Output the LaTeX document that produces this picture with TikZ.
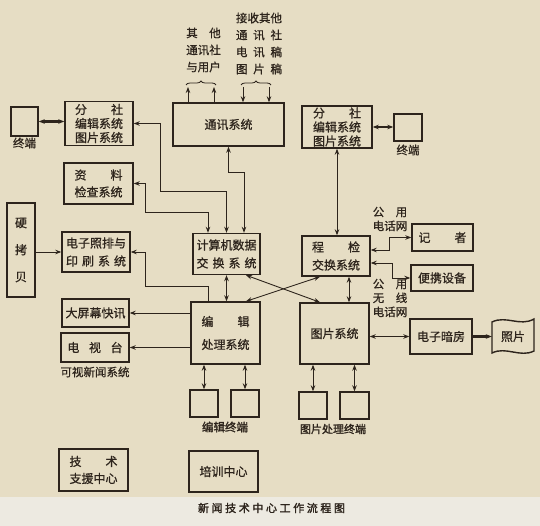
\documentclass[tikz,border=0pt]{standalone}
\usepackage{fontspec}
\newfontfamily\cjk{Noto Sans CJK SC}[FakeBold=0.8]
\newfontfamily\cjkb{Noto Sans CJK SC}[FakeBold=1.8]
\usetikzlibrary{arrows.meta,decorations.pathreplacing,calc}
\definecolor{paper}{RGB}{230,221,196}
\definecolor{paper2}{RGB}{237,234,225}
\definecolor{ink}{RGB}{45,36,28}
\begin{document}
\begin{tikzpicture}[x=1pt,y=-1pt,
  box/.style={draw=ink, line width=1.4pt, inner sep=0pt, align=center, text=ink,
    font=\cjk\fontsize{12}{14}\selectfont},
  lbl/.style={text=ink, inner sep=0pt, align=center, font=\cjk\fontsize{11.5}{17}\selectfont},
  con/.style={draw=ink, line width=0.9pt},
  arr/.style={con, -{Stealth[length=6pt,width=4.5pt]}},
  dbl/.style={con, {Stealth[length=6pt,width=4.5pt]}-{Stealth[length=6pt,width=4.5pt]}},
  heavy/.style={line width=2.2pt},
]
\useasboundingbox (0,0) rectangle (540,526);
\fill[paper] (0,0) rectangle (540,497);
\fill[paper2] (0,497) rectangle (540,526);

% boxes
\node[box, minimum width=27pt, minimum height=29pt] (t1) at (24.5,121.5) {};
\node[lbl, font=\cjk\fontsize{11.5}{13}\selectfont] (t1l) at (24.5,143) {终端};
\node[box, minimum width=68pt, minimum height=44pt] (fs1) at (99,123.5)
  {\makebox[4em]{分\hfill 社}\\编辑系统\\图片系统};
\node[box, minimum width=111pt, minimum height=43pt] (tx) at (228.5,124.5) {通讯系统};
\node[box, minimum width=70pt, minimum height=42pt] (fs2) at (337,127)
  {\makebox[4em]{分\hfill 社}\\编辑系统\\图片系统};
\node[box, minimum width=28pt, minimum height=27pt] (t2) at (408,127.5) {};
\node[lbl, font=\cjk\fontsize{11.5}{13}\selectfont] (t2l) at (408,150) {终端};
\node[box, minimum width=69pt, minimum height=41pt, font=\cjk\fontsize{12}{17}\selectfont] (zl) at (98.5,183.5)
  {\makebox[4em]{资\hfill 料}\\检查系统};
\node[box, minimum width=28pt, minimum height=94pt, font=\cjk\fontsize{12}{27}\selectfont] (yk) at (21,250)
  {硬\\拷\\贝};
\node[box, minimum width=68pt, minimum height=40pt, font=\cjk\fontsize{12}{18}\selectfont] (dz) at (96,252)
  {电子照排与\\\makebox[5em]{印\hfill 刷\hfill 系\hfill 统}};
\node[box, minimum width=67pt, minimum height=41pt, font=\cjk\fontsize{12}{18}\selectfont] (js) at (226.5,254)
  {计算机数据\\\makebox[5em]{交\hfill 换\hfill 系\hfill 统}};
\node[box, minimum width=68pt, minimum height=40pt, font=\cjk\fontsize{12}{18}\selectfont] (cj) at (336,256)
  {\makebox[4em]{程\hfill 检}\\交换系统};
\node[box, minimum width=61pt, minimum height=27pt] (jz) at (442.5,237.5) {\makebox[4em]{记\hfill 者}};
\node[box, minimum width=62pt, minimum height=26pt] (bx) at (442,278) {便携设备};
\node[box, minimum width=67pt, minimum height=28pt] (dp) at (95.5,313) {大屏幕快讯};
\node[box, minimum width=68pt, minimum height=29pt] (ds) at (95,347.5)
  {\makebox[4.6em]{电\hfill 视\hfill 台}};
\node[lbl, font=\cjk\fontsize{11.5}{13}\selectfont] (kx) at (95,372) {可视新闻系统};
\node[box, minimum width=69pt, minimum height=62pt, font=\cjk\fontsize{12}{23}\selectfont] (bj) at (225.5,333)
  {\makebox[4em]{编\hfill 辑}\\处理系统};
\node[box, minimum width=69pt, minimum height=61pt] (tp) at (334.5,333.5) {图片系统};
\node[box, minimum width=62pt, minimum height=35pt] (am) at (441,336.5) {电子暗房};
\draw[ink, line width=1.4pt] (492,322) .. controls (506,315) and (520,327) .. (534,319)
  -- (534,351) .. controls (520,358) and (506,346) .. (492,353) -- cycle;
\node[lbl, font=\cjk\fontsize{12}{14}\selectfont, minimum width=42pt] (zp) at (513,336.5) {照片};
\node[box, minimum width=28pt, minimum height=27pt] (e1) at (204,403.5) {};
\node[box, minimum width=28pt, minimum height=27pt] (e2) at (245,403.5) {};
\node[lbl, font=\cjkb\fontsize{11.5}{13}\selectfont] (el) at (225,427) {编辑终端};
\node[box, minimum width=28pt, minimum height=27pt] (p1) at (313,405.5) {};
\node[box, minimum width=29pt, minimum height=27pt] (p2) at (354.5,405.5) {};
\node[lbl, font=\cjkb\fontsize{11}{13}\selectfont] (pl) at (333,429) {图片处理终端};
\node[box, minimum width=69pt, minimum height=42pt, font=\cjk\fontsize{12}{17}\selectfont] (jszy) at (93.5,470)
  {\makebox[4em]{技\hfill 术}\\支援中心};
\node[box, minimum width=69pt, minimum height=41pt] (px) at (223.5,471.5) {培训中心};

% top labels
\node[lbl] (lq) at (203.5,50) {\makebox[3em]{其\hfill 他}\\通讯社\\与用户};
\node[lbl] (lj) at (259,43.5) {接收其他\\\makebox[4em]{通\hfill 讯\hfill 社}\\
  \makebox[4em]{电\hfill 讯\hfill 稿}\\\makebox[4em]{图\hfill 片\hfill 稿}};
\node[lbl, font=\cjk\fontsize{11.5}{14}\selectfont] (g1) at (390,219) {\makebox[3em]{公\hfill 用}\\电话网};
\node[lbl, font=\cjk\fontsize{11.5}{14}\selectfont] (g2) at (390,298)
  {\makebox[3em]{公\hfill 用}\\\makebox[3em]{无\hfill 线}\\电话网};
\node[lbl, font=\cjkb\fontsize{11}{13}\selectfont] (cap) at (271.5,508)
  {\makebox[147pt]{新\hfill 闻\hfill 技\hfill 术\hfill 中\hfill 心\hfill 工\hfill 作\hfill 流\hfill 程\hfill 图}};

% braces and top arrows
\coordinate (b1) at (188,87);
\coordinate (b2) at (214,87);
\coordinate (b3) at (243,87);
\coordinate (b4) at (269,87);
\draw[ink, line width=0.8pt, decorate, decoration={brace, amplitude=4pt}] (186,85) -- (216,85);
\draw[ink, line width=0.8pt, decorate, decoration={brace, amplitude=4pt}] (241,85) -- (271,85);
\draw[arr] ([xshift=-40.5pt]tx.north) -- (b1);
\draw[arr] ([xshift=-14.5pt]tx.north) -- (b2);
\draw[arr] (b3) -- ([xshift=14.5pt]tx.north);
\draw[arr] (b4) -- ([xshift=40.5pt]tx.north);

% connectors
\draw[dbl, heavy] (t1.east) -- (t1.east -| fs1.west);
\draw[dbl, heavy] (fs2.east) -- (fs2.east -| t2.west);
\draw[dbl] (fs1.east) -- (160,123.5) -- (160,191) -| (js.north);
\draw[dbl] (tx.south) -- ++(0,26) -| ([xshift=17.5pt]js.north);
\draw[dbl] (zl.east) -- (145,183.5) -- (145,212) -| ([xshift=-18.5pt]js.north);
\draw[dbl] (fs2.south) -- (fs2.south |- cj.north);
\draw[dbl] (js.south) -- (js.south |- bj.north);
\draw[dbl] ([xshift=13pt]cj.south) -- ([xshift=13pt]cj.south |- tp.north);
\draw[dbl] ([xshift=19.5pt]js.south) -- ([xshift=-14.5pt]tp.north);
\draw[dbl] ([xshift=20.5pt]bj.north) -- ([xshift=-16pt]cj.south);
\draw[arr] ([xshift=-17.5pt]bj.north) -- ++(0,-15) -| (145,252) -- (dz.east);
\draw[arr] (yk.east |- dz.west) -- (dz.west);
\draw[arr] (bj.west |- dp.east) -- (dp.east);
\draw[arr] (bj.west |- ds.east) -- (ds.east);
\draw[dbl] (e1.north |- bj.south) -- (e1.north);
\draw[dbl] (e2.north |- bj.south) -- (e2.north);
\draw[dbl] (p1.north |- tp.south) -- (p1.north);
\draw[dbl] (p2.north |- tp.south) -- (p2.north);
\draw[dbl] ([yshift=6pt]cj.east) -- (389,250) |- (jz.west);
\draw[dbl] ([yshift=-7pt]cj.east) -- (392,263) |- (bx.west);
\draw[dbl] (tp.east |- am.west) -- (am.west);
\draw[arr, heavy] (am.east) -- (am.east -| zp.west);
\end{tikzpicture}
\end{document}
